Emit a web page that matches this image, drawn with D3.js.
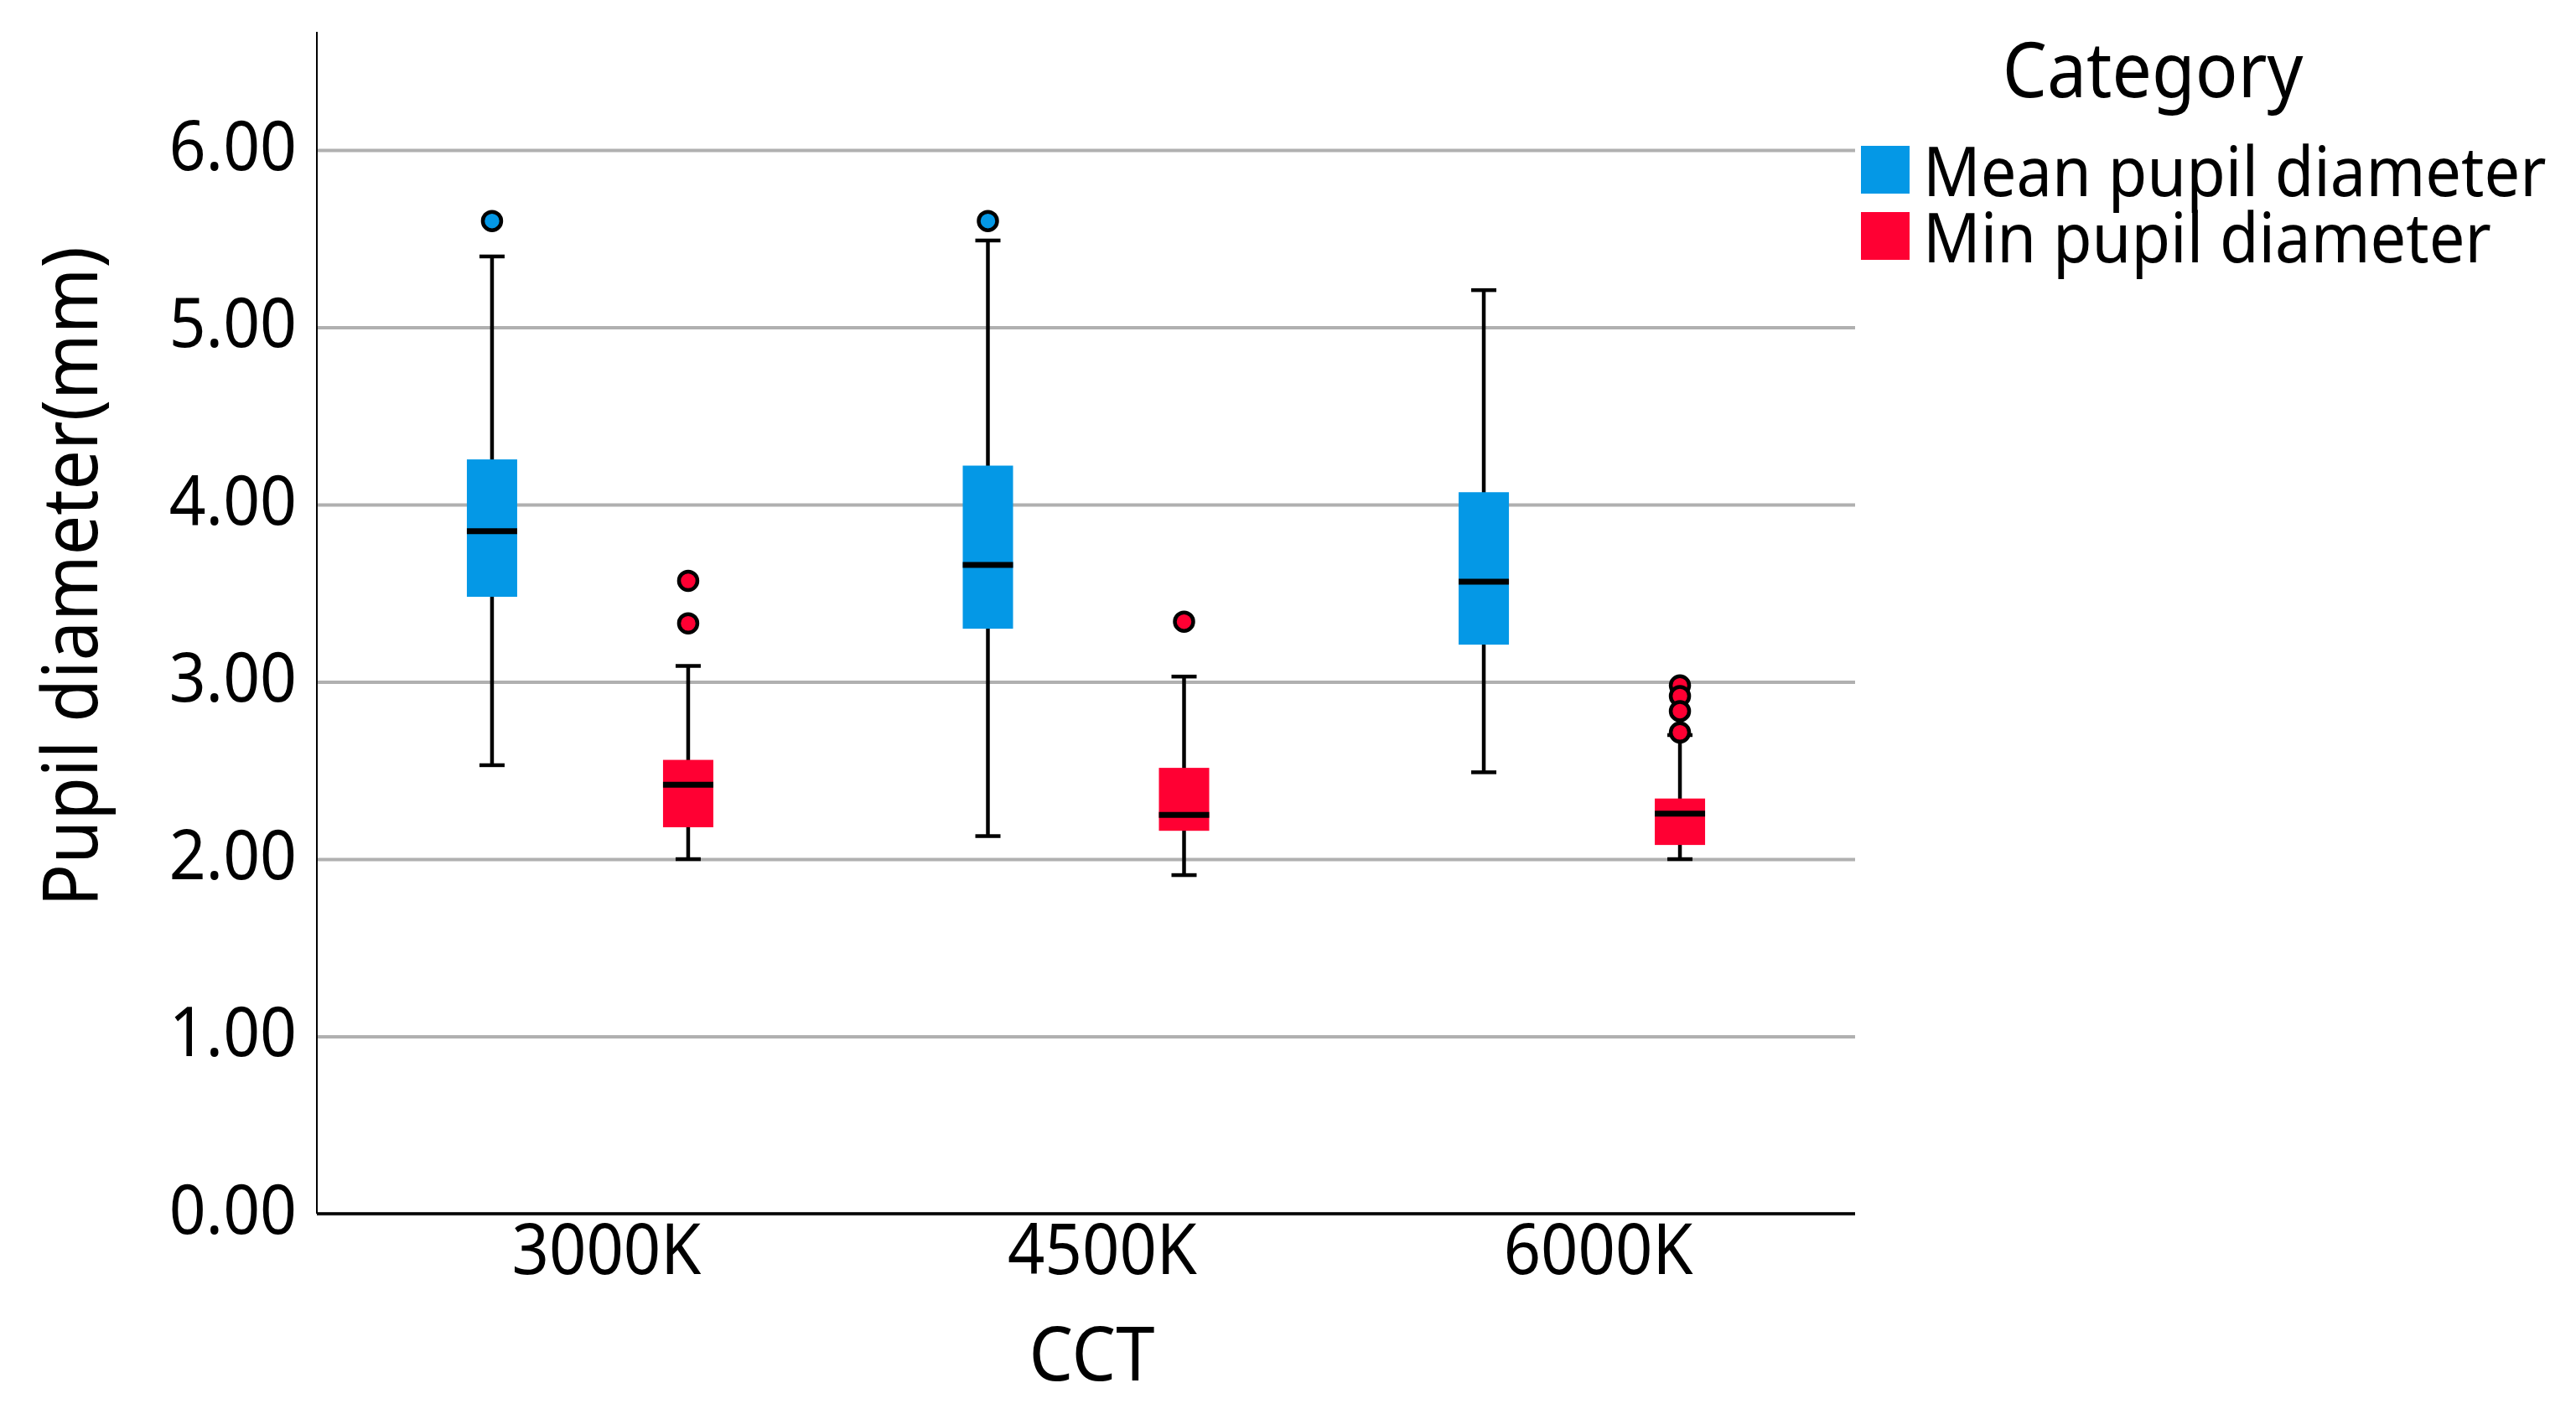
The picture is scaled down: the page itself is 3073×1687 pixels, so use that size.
<!DOCTYPE html>
<html>
<head>
<meta charset="utf-8">
<script src="https://cdn.jsdelivr.net/npm/d3@7"></script>
<style>
  html, body { margin: 0; padding: 0; background: #fff; }
  svg { display: block; }
  text { font-family: "Noto Sans", sans-serif; fill: #000; }
</style>
</head>
<body>
<svg id="chart" width="3073" height="1687"></svg>
<script>
// ---- data ----
const categories = ["3000K", "4500K", "6000K"];
const series = ["Mean pupil diameter", "Min pupil diameter"];
const seriesColors = ["#0498e6", "#ff0033"];

const meanLow      = [2.53, 2.13, 2.49];
const meanQ1       = [3.48, 3.30, 3.21];
const meanMedian   = [3.85, 3.66, 3.565];
const meanQ3       = [4.255, 4.22, 4.07];
const meanHigh     = [5.40, 5.49, 5.21];
const meanOutliers = [[5.60], [5.60], []];

const minLow       = [2.00, 1.91, 2.00];
const minQ1        = [2.18, 2.16, 2.08];
const minMedian    = [2.42, 2.25, 2.257];
const minQ3        = [2.56, 2.515, 2.342];
const minHigh      = [3.09, 3.03, 2.70];
const minOutliers  = [[3.57, 3.33], [3.34], [2.98, 2.92, 2.835, 2.715]];

const yTicks = [0, 1, 2, 3, 4, 5, 6];
const yTitle = "Pupil diameter(mm)";
const xTitle = "CCT";
const legendTitle = "Category";

(function () {
// ---- build records ----
const stats = [
  { low: meanLow, q1: meanQ1, med: meanMedian, q3: meanQ3, high: meanHigh, out: meanOutliers },
  { low: minLow, q1: minQ1, med: minMedian, q3: minQ3, high: minHigh, out: minOutliers }
];
const boxes = [];
categories.forEach((c, i) => {
  series.forEach((s, j) => {
    const st = stats[j];
    boxes.push({ cat: c, ser: s, color: seriesColors[j],
      low: st.low[i], q1: st.q1[i], med: st.med[i], q3: st.q3[i], high: st.high[i], out: st.out[i] });
  });
});

// ---- layout ----
const pLeft = 378, pRight = 2213, pTop = 38, pBottom = 1448;
const SX = 0.925; // horizontal text compression
const svg = d3.select("#chart");

const x = d3.scalePoint().domain(categories).range([pLeft, pRight]).padding(0.551);
const xs = d3.scalePoint().domain(series).range([-117, 117]);
const y = d3.scaleLinear().domain([0, 6.667]).range([pBottom, pTop]);
const boxW = 60, capW = 30;

// gridlines
svg.append("g")
  .attr("transform", `translate(${pLeft},0)`)
  .call(d3.axisLeft(y).tickValues(yTicks).tickSize(-(pRight - pLeft)).tickFormat(""))
  .call(g => g.select(".domain").remove())
  .call(g => g.selectAll("line").attr("stroke", "#b0b0b0").attr("stroke-width", 4));

// y axis
svg.append("g")
  .attr("transform", `translate(${pLeft},0)`)
  .call(d3.axisLeft(y).tickValues(yTicks).tickSize(0).tickFormat(d3.format(".2f")))
  .call(g => g.select(".domain").attr("stroke", "#000").attr("stroke-width", 2)
      .attr("d", `M0,${pTop}V${pBottom}`))
  .call(g => g.selectAll("text")
      .attr("x", null).attr("dy", null)
      .attr("text-anchor", "end")
      .attr("font-size", 83)
      .attr("font-family", "Noto Sans")
      .attr("transform", `translate(-24,23) scale(${SX},1)`));

// x axis
svg.append("g")
  .attr("transform", `translate(0,${pBottom})`)
  .call(d3.axisBottom(x).tickSize(0).tickFormat(d => d))
  .call(g => g.select(".domain").attr("stroke", "#000").attr("stroke-width", 3.5)
      .attr("d", `M${pLeft},0H${pRight}`))
  .call(g => g.selectAll("text")
      .attr("y", null).attr("dy", null)
      .attr("text-anchor", "middle")
      .attr("font-size", 84)
      .attr("font-family", "Noto Sans")
      .attr("transform", `translate(19,72) scale(${SX},1)`));

// boxes
const bx = svg.append("g").selectAll("g").data(boxes).join("g")
  .attr("transform", d => `translate(${x(d.cat) + xs(d.ser)},0)`);

bx.append("line")
  .attr("x1", 0).attr("x2", 0)
  .attr("y1", d => y(d.high)).attr("y2", d => y(d.low))
  .attr("stroke", "#000").attr("stroke-width", 4.5);
bx.append("line")
  .attr("x1", -capW / 2).attr("x2", capW / 2)
  .attr("y1", d => y(d.high)).attr("y2", d => y(d.high))
  .attr("stroke", "#000").attr("stroke-width", 4.5);
bx.append("line")
  .attr("x1", -capW / 2).attr("x2", capW / 2)
  .attr("y1", d => y(d.low)).attr("y2", d => y(d.low))
  .attr("stroke", "#000").attr("stroke-width", 4.5);
bx.append("rect")
  .attr("x", -boxW / 2).attr("width", boxW)
  .attr("y", d => y(d.q3)).attr("height", d => y(d.q1) - y(d.q3))
  .attr("fill", d => d.color);
bx.append("line")
  .attr("x1", -boxW / 2).attr("x2", boxW / 2)
  .attr("y1", d => y(d.med)).attr("y2", d => y(d.med))
  .attr("stroke", "#000").attr("stroke-width", 7);
bx.selectAll("circle").data(d => d.out.map(v => ({ v, color: d.color }))).join("circle")
  .attr("cx", 0).attr("cy", d => y(d.v)).attr("r", 11)
  .attr("fill", d => d.color).attr("stroke", "#000").attr("stroke-width", 4.5);

// axis titles
svg.append("text")
  .attr("text-anchor", "middle").attr("font-size", 90)
  .attr("transform", `translate(${(pLeft + pRight) / 2 + 7},1647) scale(${SX},1)`)
  .text(xTitle);
svg.append("text")
  .attr("text-anchor", "middle").attr("font-size", 91)
  .attr("transform", `translate(116,688) rotate(-90) scale(${SX},1)`)
  .text(yTitle);

// legend
const lg = svg.append("g");
lg.append("text")
  .attr("text-anchor", "middle").attr("font-size", 91)
  .attr("transform", `translate(2568,116) scale(${SX},1)`)
  .text(legendTitle);
const items = lg.selectAll("g.item").data(series).join("g").attr("class", "item")
  .attr("transform", (d, i) => `translate(2220,${174 + i * 79})`);
items.append("rect").attr("x", 0).attr("y", 0).attr("width", 58).attr("height", 57)
  .attr("fill", (d, i) => seriesColors[i]);
items.append("text")
  .attr("font-size", 82)
  .attr("transform", `translate(74,60) scale(${SX},1)`)
  .text(d => d);
})();
</script>
</body>
</html>
